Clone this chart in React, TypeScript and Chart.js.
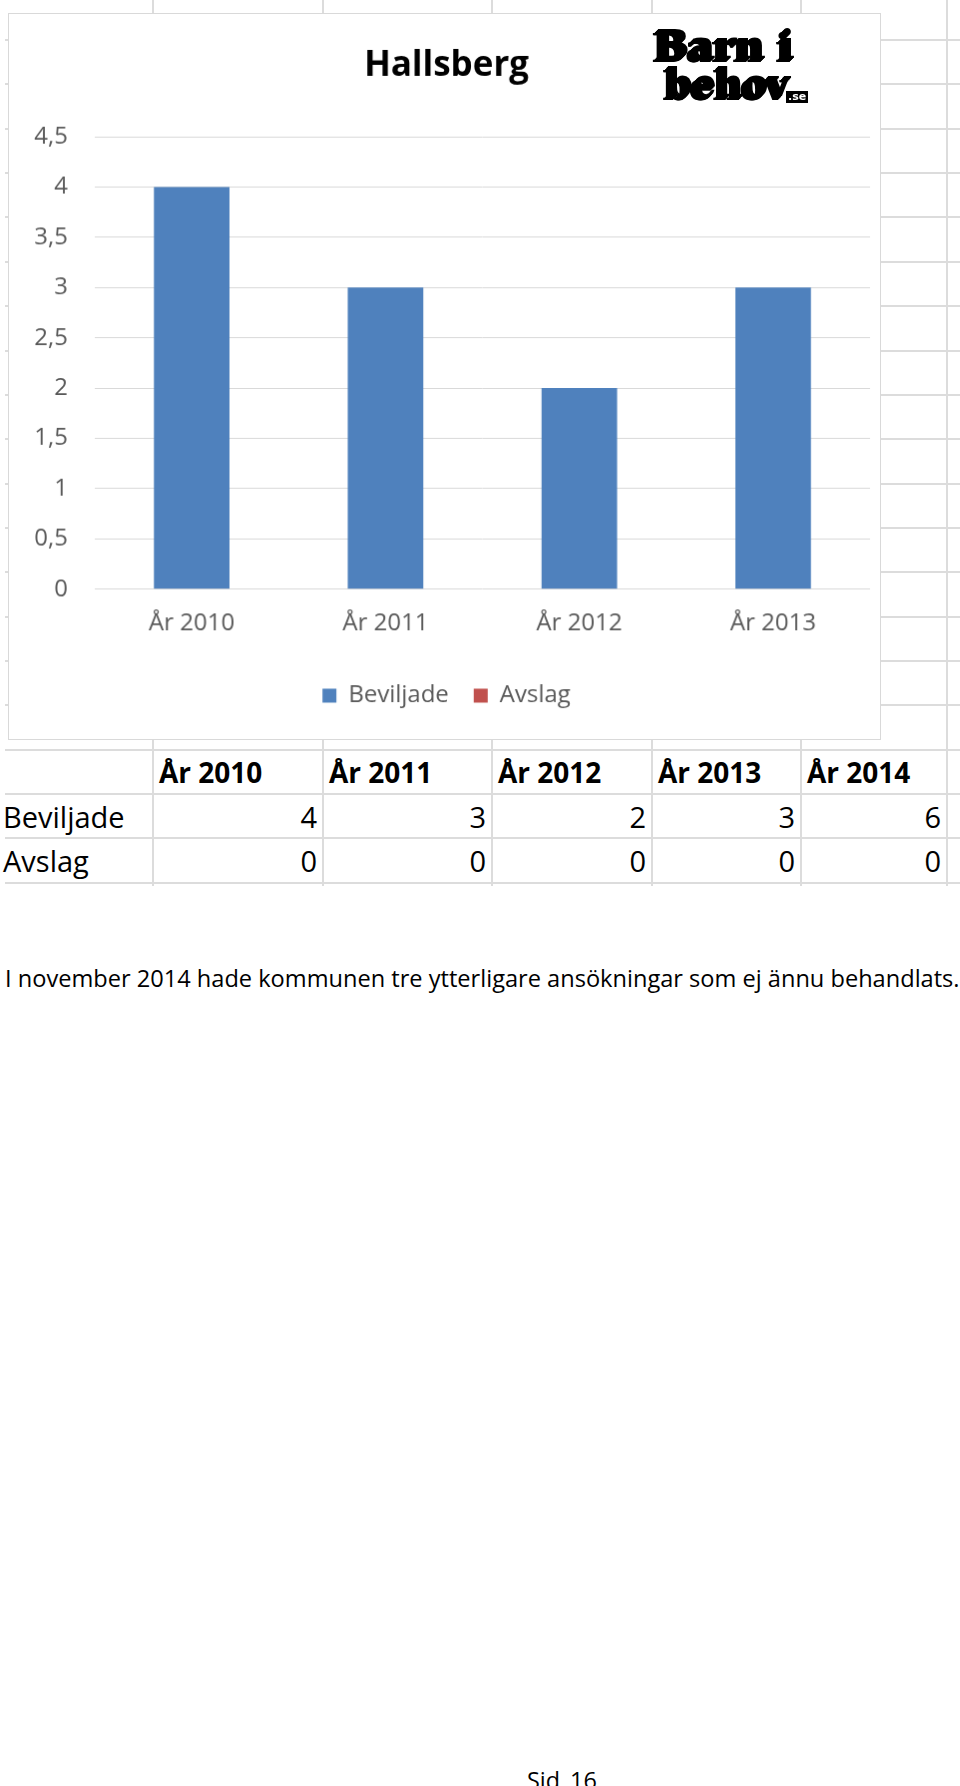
import React, { useEffect, useRef } from 'react';
import { Chart, registerables } from 'chart.js';

Chart.register(...registerables);

// ---- data ----
const chartTitle = 'Hallsberg';
const seriesNames = ['Beviljade', 'Avslag'];
const chartYears = ['År 2010', 'År 2011', 'År 2012', 'År 2013'];
const chartBeviljade = [4, 3, 2, 3];
const chartAvslag = [0, 0, 0, 0];
const yTickLabels = ['0', '0,5', '1', '1,5', '2', '2,5', '3', '3,5', '4', '4,5'];

const tableYears = ['År 2010', 'År 2011', 'År 2012', 'År 2013', 'År 2014'];
const tableBeviljade = [4, 3, 2, 3, 6];
const tableAvslag = [0, 0, 0, 0, 0];

const paragraph = 'I november 2014 hade kommunen tre ytterligare ansökningar som ej ännu behandlats.';
const pageLabel = 'Sid 16';

// ---- layout (positions only) ----
const COLS = [153, 323, 492, 652, 801, 947];
const ROWS = Array.from({ length: 20 }, (_, k) => Math.round(40 + 44.36 * k));
const GRID = '#dcdcdc';
const FONT = '"Open Sans", "DejaVu Sans", sans-serif';

const logoText: React.CSSProperties = {
  position: 'absolute',
  fontFamily: '"DejaVu Serif", serif',
  fontWeight: 'bold',
  fontSize: 40,
  lineHeight: '40px',
  whiteSpace: 'pre',
  color: '#000',
  textShadow: '-1px 1px 0 #000, -2px 2px 0 #000, -3px 3px 0 #000, -4px 4px 0 #000, -5px 4px 0 #000',
  transformOrigin: 'left top',
};

export default function App() {
  const ref = useRef<HTMLCanvasElement>(null);

  useEffect(() => {
    const canvas = ref.current;
    if (!canvas) return;
    const chart = new Chart(canvas, {
      type: 'bar',
      data: {
        labels: chartYears,
        datasets: [
          { label: seriesNames[0], data: chartBeviljade, backgroundColor: '#4f81bd', borderWidth: 0 },
          { label: seriesNames[1], data: chartAvslag, backgroundColor: '#c0504d', borderWidth: 0 },
        ],
      },
      options: {
        responsive: false,
        animation: false,
        devicePixelRatio: 1,
        grouped: false,
        categoryPercentage: 1,
        barPercentage: 0.39,
        layout: { padding: { left: 14, right: 10, top: 0, bottom: 21.6 } },
        plugins: {
          title: {
            display: true,
            text: chartTitle,
            color: '#000',
            font: { family: FONT, size: 35, weight: 'bold', lineHeight: 1.2 },
            padding: { top: 31.5, bottom: 49.5 },
          },
          legend: {
            position: 'bottom',
            labels: {
              boxWidth: 14,
              boxHeight: 14,
              padding: 25,
              color: '#595959',
              font: { family: FONT, size: 24 },
            },
          },
          tooltip: { enabled: false },
        },
        scales: {
          x: {
            grid: { display: false, drawTicks: false },
            border: { display: false },
            ticks: { color: '#595959', font: { family: FONT, size: 24 }, padding: 20 },
            afterFit: (s: any) => {
              s.height = 69.6;
            },
          },
          y: {
            min: 0,
            max: 4.5,
            grid: { color: '#d9d9d9', drawTicks: false },
            border: { display: false },
            ticks: {
              stepSize: 0.5,
              color: '#595959',
              font: { family: FONT, size: 24 },
              padding: 27,
              callback: (_v: any, i: number) => yTickLabels[i],
            },
            afterFit: (s: any) => {
              s.width = 72;
            },
          },
        },
      } as any,
    });
    let alive = true;
    if ((document as any).fonts) {
      Promise.all([
        (document as any).fonts.load('24px "Open Sans"'),
        (document as any).fonts.load('bold 35px "Open Sans"'),
      ]).then(() => {
        if (alive) chart.update();
      });
    }
    return () => {
      alive = false;
      chart.destroy();
    };
  }, []);

  const abs = (s: React.CSSProperties): React.CSSProperties => ({ position: 'absolute', ...s });

  const rowTops = [ROWS[16], ROWS[17], ROWS[18]];
  const rowH = ROWS[17] - ROWS[16];

  return (
    <div style={abs({ left: 0, top: 0, width: 960, height: 1786, overflow: 'hidden', background: '#fff', fontFamily: FONT, color: '#000' })}>
      {/* spreadsheet grid */}
      {ROWS.map((y, i) => (
        <div key={'h' + i} style={abs({ left: 5, top: y - 1, width: 955, height: 2, background: GRID })} />
      ))}
      {COLS.map((x, i) => (
        <div key={'v' + i} style={abs({ left: x - 1, top: 0, width: 2, height: 886, background: GRID })} />
      ))}

      {/* chart */}
      <canvas
        ref={ref}
        width={873}
        height={727}
        style={abs({ left: 8, top: 13, width: 873, height: 727, border: '1px solid #d9d9d9', background: '#fff' })}
      />

      {/* logo */}
      <div style={{ ...logoText, left: 656, top: 24, transform: 'scaleX(1.0)' }}>Barn i</div>
      <div style={{ ...logoText, left: 667, top: 62, transform: 'scaleX(0.93)' }}>behov</div>
      <div
        style={abs({
          left: 786,
          top: 91,
          fontFamily: '"DejaVu Sans", sans-serif',
          fontWeight: 'bold',
          fontSize: 11,
          lineHeight: '12px',
          color: '#fff',
          background: '#000',
          padding: '0 2px',
        })}
      >
        .se
      </div>

      {/* table */}
      {tableYears.map((t, i) => (
        <div
          key={'th' + i}
          style={abs({ left: COLS[i] + 6, top: rowTops[0], height: rowH, display: 'flex', alignItems: 'center', fontWeight: 'bold', fontSize: 28, whiteSpace: 'nowrap' })}
        >
          {t}
        </div>
      ))}
      {[seriesNames[0], seriesNames[1]].map((n, r) => (
        <div
          key={'rl' + r}
          style={abs({ left: 3, top: rowTops[r + 1], height: rowH, display: 'flex', alignItems: 'center', fontSize: 29, whiteSpace: 'nowrap' })}
        >
          {n}
        </div>
      ))}
      {[tableBeviljade, tableAvslag].map((vals, r) =>
        vals.map((v, i) => (
          <div
            key={'c' + r + '-' + i}
            style={abs({
              left: COLS[i],
              width: COLS[i + 1] - COLS[i] - 6,
              top: rowTops[r + 1],
              height: rowH,
              display: 'flex',
              alignItems: 'center',
              justifyContent: 'flex-end',
              fontSize: 29,
            })}
          >
            {v}
          </div>
        ))
      )}

      {/* text */}
      <div style={abs({ left: 5, top: 962, fontSize: 23.6, lineHeight: '32px', whiteSpace: 'nowrap' })}>{paragraph}</div>
      <div style={abs({ left: 527, top: 1764, fontSize: 23.4, lineHeight: '32px', whiteSpace: 'pre', wordSpacing: 4 })}>{pageLabel}</div>
    </div>
  );
}
